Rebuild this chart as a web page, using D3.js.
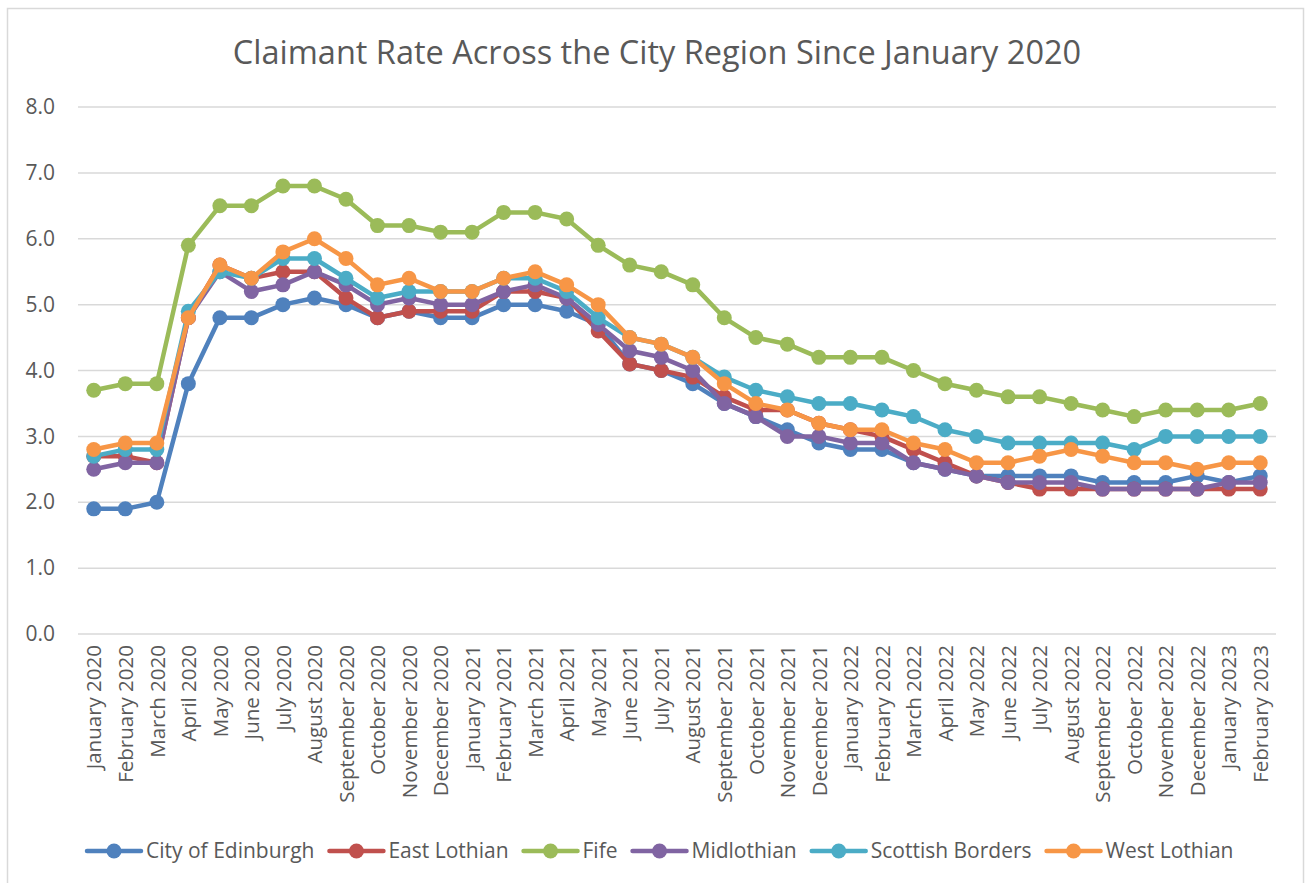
<!DOCTYPE html>
<html>
<head>
<meta charset="utf-8">
<script src="https://cdn.jsdelivr.net/npm/d3@7"></script>
<style>
  body { margin: 0; background: #fff; }
  svg text { font-family: "Open Sans", "DejaVu Sans", sans-serif; fill: #595959; }
</style>
</head>
<body>
<div id="chart"></div>
<script>
// Canvas size and plot area
const width = 1306;
const height = 883;
const margin = { top: 107, right: 30, bottom: 249, left: 78 };

// Months on the category axis
const months = [
  "January 2020", "February 2020", "March 2020", "April 2020", "May 2020", "June 2020",
  "July 2020", "August 2020", "September 2020", "October 2020", "November 2020", "December 2020",
  "January 2021", "February 2021", "March 2021", "April 2021", "May 2021", "June 2021",
  "July 2021", "August 2021", "September 2021", "October 2021", "November 2021", "December 2021",
  "January 2022", "February 2022", "March 2022", "April 2022", "May 2022", "June 2022",
  "July 2022", "August 2022", "September 2022", "October 2022", "November 2022", "December 2022",
  "January 2023", "February 2023"
];

// Claimant rate per area (%)
const edinburgh = [1.9, 1.9, 2.0, 3.8, 4.8, 4.8, 5.0, 5.1, 5.0, 4.8, 4.9, 4.8, 4.8, 5.0, 5.0, 4.9, 4.7, 4.1, 4.0, 3.8, 3.5, 3.3, 3.1, 2.9, 2.8, 2.8, 2.6, 2.5, 2.4, 2.4, 2.4, 2.4, 2.3, 2.3, 2.3, 2.4, 2.3, 2.4];
const eastLothian = [2.7, 2.7, 2.6, 4.8, 5.6, 5.4, 5.5, 5.5, 5.1, 4.8, 4.9, 4.9, 4.9, 5.2, 5.2, 5.1, 4.6, 4.1, 4.0, 3.9, 3.6, 3.4, 3.4, 3.2, 3.1, 3.0, 2.8, 2.6, 2.4, 2.3, 2.2, 2.2, 2.2, 2.2, 2.2, 2.2, 2.2, 2.2];
const fife = [3.7, 3.8, 3.8, 5.9, 6.5, 6.5, 6.8, 6.8, 6.6, 6.2, 6.2, 6.1, 6.1, 6.4, 6.4, 6.3, 5.9, 5.6, 5.5, 5.3, 4.8, 4.5, 4.4, 4.2, 4.2, 4.2, 4.0, 3.8, 3.7, 3.6, 3.6, 3.5, 3.4, 3.3, 3.4, 3.4, 3.4, 3.5];
const midlothian = [2.5, 2.6, 2.6, 4.8, 5.5, 5.2, 5.3, 5.5, 5.3, 5.0, 5.1, 5.0, 5.0, 5.2, 5.3, 5.1, 4.7, 4.3, 4.2, 4.0, 3.5, 3.3, 3.0, 3.0, 2.9, 2.9, 2.6, 2.5, 2.4, 2.3, 2.3, 2.3, 2.2, 2.2, 2.2, 2.2, 2.3, 2.3];
const borders = [2.7, 2.8, 2.8, 4.9, 5.5, 5.4, 5.7, 5.7, 5.4, 5.1, 5.2, 5.2, 5.2, 5.4, 5.4, 5.2, 4.8, 4.5, 4.4, 4.2, 3.9, 3.7, 3.6, 3.5, 3.5, 3.4, 3.3, 3.1, 3.0, 2.9, 2.9, 2.9, 2.9, 2.8, 3.0, 3.0, 3.0, 3.0];
const westLothian = [2.8, 2.9, 2.9, 4.8, 5.6, 5.4, 5.8, 6.0, 5.7, 5.3, 5.4, 5.2, 5.2, 5.4, 5.5, 5.3, 5.0, 4.5, 4.4, 4.2, 3.8, 3.5, 3.4, 3.2, 3.1, 3.1, 2.9, 2.8, 2.6, 2.6, 2.7, 2.8, 2.7, 2.6, 2.6, 2.5, 2.6, 2.6];

const seriesNames = ["City of Edinburgh", "East Lothian", "Fife", "Midlothian", "Scottish Borders", "West Lothian"];
const seriesValues = [edinburgh, eastLothian, fife, midlothian, borders, westLothian];
const colors = ["#4F81BD", "#C0504D", "#9BBB59", "#8064A2", "#4BACC6", "#F79646"];
const yTicks = [0, 1, 2, 3, 4, 5, 6, 7, 8];

const series = seriesNames.map((name, i) => ({
  name: name,
  color: colors[i],
  values: seriesValues[i].map((v, j) => ({ month: months[j], value: v }))
}));

// Scales
const xScale = d3.scalePoint()
  .domain(months)
  .range([margin.left, width - margin.right])
  .padding(0.5);

const yScale = d3.scaleLinear()
  .domain([0, 8])
  .range([height - margin.bottom, margin.top]);

const svg = d3.select("#chart")
  .append("svg")
  .attr("width", width)
  .attr("height", height);

// Chart border
svg.append("rect")
  .attr("x", 7.5)
  .attr("y", 8.5)
  .attr("width", 1296)
  .attr("height", 890)
  .attr("fill", "none")
  .attr("stroke", "#D9D9D9")
  .attr("stroke-width", 1.5);

// Title
svg.append("text")
  .attr("x", 657)
  .attr("y", 64)
  .attr("text-anchor", "middle")
  .style("font-size", "32.5px")
  .text("Claimant Rate Across the City Region Since January 2020");

// Grid lines
svg.append("g")
  .selectAll("line")
  .data(yTicks)
  .enter()
  .append("line")
  .attr("x1", margin.left)
  .attr("x2", width - margin.right)
  .attr("y1", d => yScale(d))
  .attr("y2", d => yScale(d))
  .attr("stroke", "#D9D9D9")
  .attr("stroke-width", 1.5);

// Y axis labels
const yAxis = svg.append("g")
  .attr("transform", `translate(${margin.left}, 0)`)
  .call(d3.axisLeft(yScale).tickValues(yTicks).tickFormat(d3.format(".1f")).tickSize(0).tickPadding(23));
yAxis.select(".domain").remove();
yAxis.selectAll("text")
  .style("font-size", "21px")
  .style("font-family", null)
  .attr("fill", "#595959");

// X axis labels (rotated)
const xAxis = svg.append("g")
  .attr("transform", `translate(0, ${height - margin.bottom})`)
  .call(d3.axisBottom(xScale).tickSize(0));
xAxis.select(".domain").remove();
xAxis.selectAll("text")
  .style("font-size", "20.5px")
  .style("font-family", null)
  .attr("fill", "#595959")
  .attr("text-anchor", "end")
  .attr("dy", "0.35em")
  .attr("transform", "rotate(-90)")
  .attr("x", -11)
  .attr("y", 0);

// Lines and markers
const line = d3.line()
  .x(d => xScale(d.month))
  .y(d => yScale(d.value));

series.forEach(s => {
  const g = svg.append("g");
  g.append("path")
    .datum(s.values)
    .attr("fill", "none")
    .attr("stroke", s.color)
    .attr("stroke-width", 4.5)
    .attr("stroke-linejoin", "round")
    .attr("d", line);
  g.selectAll("circle")
    .data(s.values)
    .enter()
    .append("circle")
    .attr("cx", d => xScale(d.month))
    .attr("cy", d => yScale(d.value))
    .attr("r", 7.5)
    .attr("fill", s.color);
});

// Legend
const legend = svg.append("g").attr("transform", "translate(0, 851)");
let lx = 87;
series.forEach(s => {
  const item = legend.append("g").attr("transform", `translate(${lx}, 0)`);
  item.append("line")
    .attr("x1", 0).attr("x2", 54)
    .attr("y1", 0).attr("y2", 0)
    .attr("stroke", s.color)
    .attr("stroke-width", 4.5)
    .attr("stroke-linecap", "round");
  item.append("circle")
    .attr("cx", 27).attr("cy", 0).attr("r", 7.5)
    .attr("fill", s.color);
  const t = item.append("text")
    .attr("x", 59)
    .attr("y", 0)
    .attr("dy", "0.35em")
    .style("font-size", "21px")
    .text(s.name);
  lx += 59 + t.node().getComputedTextLength() + 15;
});
</script>
</body>
</html>
